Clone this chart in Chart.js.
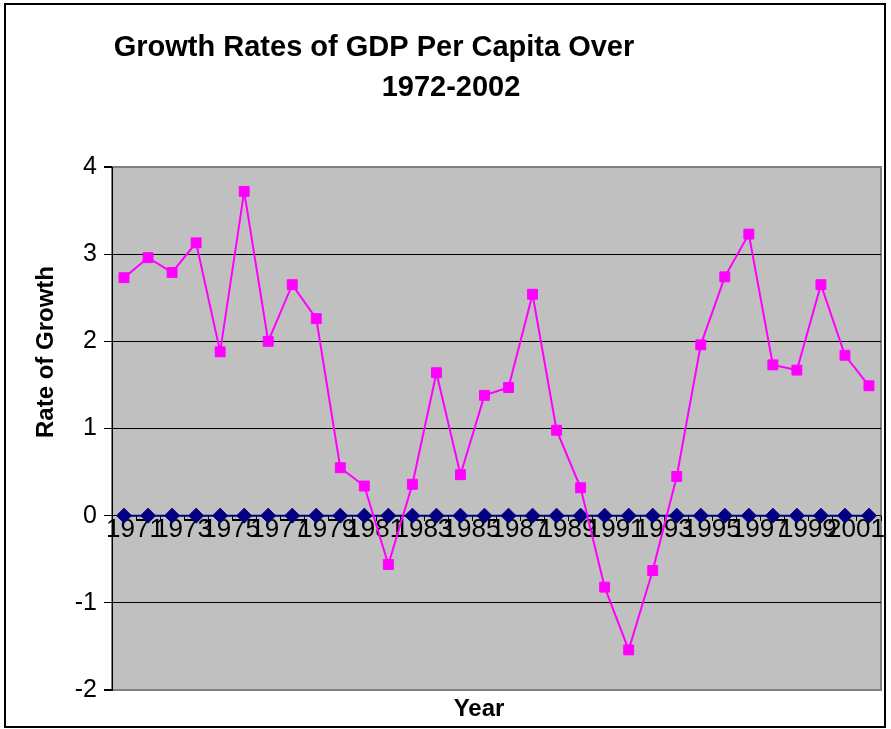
<!DOCTYPE html>
<html>
<head>
<meta charset="utf-8">
<title>Growth Rates of GDP Per Capita Over 1972-2002</title>
<script src="https://cdn.jsdelivr.net/npm/chart.js@4.4.1/dist/chart.umd.min.js"></script>
<style>
  html, body { margin: 0; padding: 0; background: #fff; }
  #wrap { position: relative; width: 891px; height: 729px; }
</style>
</head>
<body>
<div id="wrap"><canvas id="gdpChart"></canvas></div>
<script>
'use strict';

// Categories (one point per year)
const years = [
  '1971', '1972', '1973', '1974', '1975', '1976', '1977', '1978',
  '1979', '1980', '1981', '1982', '1983', '1984', '1985', '1986',
  '1987', '1988', '1989', '1990', '1991', '1992', '1993', '1994',
  '1995', '1996', '1997', '1998', '1999', '2000', '2001', '2002'
];

// Growth rate of GDP per capita
const growthRates = [
  2.73, 2.96, 2.79, 3.13, 1.88, 3.72, 2.00, 2.65,
  2.26, 0.55, 0.34, -0.56, 0.36, 1.64, 0.47, 1.38,
  1.47, 2.54, 0.98, 0.32, -0.82, -1.54, -0.63, 0.45,
  1.96, 2.74, 3.23, 1.73, 1.67, 2.65, 1.84, 1.49
];

// Second series sits on zero the whole way
const baseline = [
  0, 0, 0, 0, 0, 0, 0, 0,
  0, 0, 0, 0, 0, 0, 0, 0,
  0, 0, 0, 0, 0, 0, 0, 0,
  0, 0, 0, 0, 0, 0, 0, 0
];

// Value axis range and step
const yRange = [-2, 4];
const yStep = 1;

const colors = {
  magenta: '#ff00ff',
  navy: '#000080',
  plotBg: '#c0c0c0',
  plotBorder: '#808080',
  ink: '#000000'
};

const sans = "'Liberation Sans', Arial, Helvetica, sans-serif";
const narrow = "'Liberation Sans Narrow', 'Arial Narrow', 'Liberation Sans', Arial, sans-serif";

// Background, plot frame, outer border and the free-placed titles
const excelFrame = {
  id: 'excelFrame',
  beforeDraw(chart) {
    const { ctx, chartArea: a } = chart;
    ctx.save();
    ctx.fillStyle = '#ffffff';
    ctx.fillRect(0, 0, chart.width, chart.height);
    ctx.fillStyle = colors.plotBg;
    ctx.fillRect(a.left, a.top, a.right - a.left, a.bottom - a.top);
    ctx.strokeStyle = colors.plotBorder;
    ctx.lineWidth = 2;
    ctx.strokeRect(a.left, a.top, a.right - a.left, a.bottom - a.top);
    ctx.strokeStyle = colors.ink;
    ctx.lineWidth = 2;
    ctx.strokeRect(5, 4, 880, 723);
    ctx.restore();
  },
  afterDraw(chart) {
    const { ctx } = chart;
    ctx.save();
    ctx.fillStyle = colors.ink;
    ctx.textAlign = 'center';
    ctx.textBaseline = 'alphabetic';

    ctx.font = 'bold 29px ' + sans;
    ctx.fillText('Growth Rates of GDP Per Capita Over', 374, 56);
    ctx.fillText('1972-2002', 451, 96);

    ctx.font = 'bold 24px ' + sans;
    ctx.fillText('Year', 479, 716);

    ctx.translate(53, 352);
    ctx.rotate(-Math.PI / 2);
    ctx.fillText('Rate of Growth', 0, 0);
    ctx.restore();
  }
};

const ctx = document.getElementById('gdpChart');

new Chart(ctx, {
  type: 'line',
  data: {
    labels: years,
    datasets: [{
      label: 'Growth rate',
      data: growthRates,
      borderColor: colors.magenta,
      backgroundColor: colors.magenta,
      borderWidth: 2,
      pointStyle: 'rect',
      pointRadius: 7,
      pointBorderWidth: 1,
      pointBorderColor: colors.magenta,
      pointBackgroundColor: colors.magenta,
      tension: 0
    }, {
      label: 'Zero',
      data: baseline,
      borderColor: colors.navy,
      backgroundColor: colors.navy,
      borderWidth: 2,
      pointStyle: 'rectRot',
      pointRadius: 7.5,
      pointBorderWidth: 1,
      pointBorderColor: colors.navy,
      pointBackgroundColor: colors.navy,
      tension: 0
    }]
  },
  options: {
    responsive: true,
    maintainAspectRatio: false,
    animation: false,
    layout: {
      padding: { top: 167, right: 10, bottom: 39, left: 0 }
    },
    plugins: {
      legend: { display: false },
      title: { display: false },
      tooltip: { enabled: false }
    },
    scales: {
      x: {
        position: { y: 0 },
        offset: true,
        grid: {
          display: true,
          offset: true,
          drawOnChartArea: false,
          drawTicks: true,
          tickLength: 5,
          color: colors.ink
        },
        border: { display: false },
        ticks: {
          autoSkip: false,
          minRotation: 0,
          maxRotation: 0,
          labelOffset: 11,
          padding: -4,
          color: colors.ink,
          font: { family: narrow, size: 26, lineHeight: 1 },
          callback: function(value, index) {
            return index % 2 === 0 ? years[index] : '';
          }
        }
      },
      y: {
        min: yRange[0],
        max: yRange[1],
        afterFit: function(scale) {
          scale.width = 112;
        },
        grid: {
          color: function(c) {
            const v = c.tick && c.tick.value;
            return (v === yRange[0] || v === yRange[1]) ? colors.plotBorder : colors.ink;
          },
          lineWidth: function(c) {
            const v = c.tick && c.tick.value;
            return (v === yRange[0] || v === yRange[1]) ? 2 : 1;
          },
          tickColor: colors.ink,
          tickLength: 8
        },
        border: { display: true, color: colors.ink, width: 1 },
        ticks: {
          stepSize: yStep,
          padding: 7,
          color: colors.ink,
          font: { family: sans, size: 25 }
        }
      }
    }
  },
  plugins: [excelFrame]
});
</script>
</body>
</html>
